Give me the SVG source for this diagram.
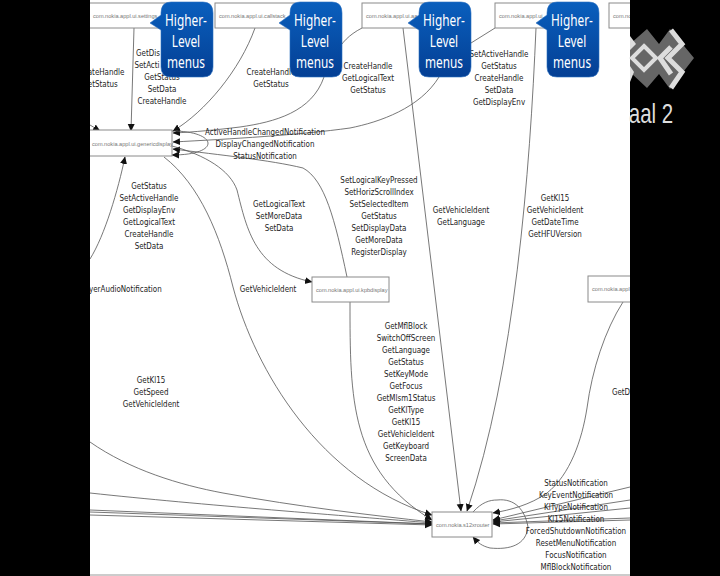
<svg xmlns="http://www.w3.org/2000/svg" width="720" height="576" viewBox="0 0 720 576">
<defs>
<marker id="a" markerUnits="userSpaceOnUse" markerWidth="9" markerHeight="8" refX="7" refY="4" orient="auto"><path d="M0 0.5L7.5 4L0 7.5Z" fill="#111"/></marker>
<linearGradient id="b" x1="0" y1="0" x2="0" y2="1"><stop offset="0" stop-color="#0a5fbd"/><stop offset="1" stop-color="#043f94"/></linearGradient>
<path id="bub" d="M11 0H43Q53 0 53 11V65Q53 75 43 75H11Q1 75 1 65V28L-10 21L1 13V11Q1 0 11 0Z" fill="url(#b)" stroke="#2a6fc0" stroke-width="0.6"/>
</defs>
<style>
.n{fill:#fff;stroke:#8a8a8a;stroke-width:1}
.t{font:5.6px "Liberation Sans",sans-serif;fill:#777}
.l{font:9.4px "DejaVu Sans",sans-serif;fill:#222;text-anchor:middle;transform-box:fill-box;transform-origin:center;transform:scaleX(.76)}
.c path{fill:none;stroke:#555;stroke-width:.8}
.ah path{marker-end:url(#a)}
.h{font:16px "Noto Sans",sans-serif;fill:#fff;text-anchor:middle;transform-box:fill-box;transform-origin:center;transform:scaleX(.74)}
.w{fill:none;stroke:#ddd;stroke-width:5}
</style>
<rect width="720" height="576" fill="#000"/>
<rect x="90" y="0" width="540" height="576" fill="#fff"/>
<path d="M90 575H630" stroke="#999" fill="none"/>
<g id="connectors" class="c">
<path d="M362 28C335 42 335 60 324 77"/>
<path d="M495 28L471 43"/>
<g class="ah">
<path d="M134 28L131 131"/>
<path d="M255 28C240 70 205 112 173 131"/>
<path d="M324 77C312 112 275 122 240 127C215 130 195 132 173 133"/>
<path d="M439 77C420 108 380 122 350 128C300 135 230 139 173 142"/>
<path d="M172 131C218 131 222 155 172 155"/>
<path d="M347 277C335 220 325 180 303 168C270 160 220 155 173 149"/>
<path d="M172 146C205 155 230 170 237 190C247 230 255 270 312 282"/>
<path d="M90 259C105 235 118 190 125 157"/>
<path d="M90 125L100 131"/>
<path d="M403 28L461 511"/>
<path d="M536 28C530 170 515 370 467 511"/>
<path d="M164 157C200 185 220 235 233 287C255 370 320 480 432 515"/>
<path d="M350 302C350 400 350 470 432 520"/>
<path d="M90 442C130 470 180 485 223 493C300 507 370 515 432 522"/>
<path d="M90 493C200 505 350 516 432 523"/>
<path d="M90 510L432 524"/>
<path d="M90 512L432 524"/>
<path d="M90 515L432 525"/>
<path d="M623 302C605 330 592 370 587 408C582 440 570 475 547 493C530 505 510 510 493 513"/>
<path d="M630 487L493 520"/>
<path d="M630 500L493 521"/>
<path d="M630 508L493 522"/>
<path d="M630 518L493 523"/>
<path d="M630 520L493 524"/>
<path d="M473 512C482 502 490 500 497 500C515 498 525 510 528 527C526 545 510 550 490 548C482 546 478 543 473 537"/>
</g>
</g>
<g id="labels">
<text class="l" x="148" y="56">GetDis</text>
<text class="l" x="147" y="68">SetActi</text>
<text class="l" x="162" y="80">GetStatus</text>
<text class="l" x="162" y="92">SetData</text>
<text class="l" x="162" y="104">CreateHandle</text>
<text class="l" x="100" y="75">CreateHandle</text>
<text class="l" x="100" y="87">GetStatus</text>
<text class="l" x="271" y="75">CreateHandle</text>
<text class="l" x="271" y="87">GetStatus</text>
<text class="l" x="368" y="69">CreateHandle</text>
<text class="l" x="368" y="81">GetLogicalText</text>
<text class="l" x="368" y="93">GetStatus</text>
<text class="l" x="499" y="57">SetActiveHandle</text>
<text class="l" x="499" y="69">GetStatus</text>
<text class="l" x="499" y="81">CreateHandle</text>
<text class="l" x="499" y="93">SetData</text>
<text class="l" x="499" y="105">GetDisplayEnv</text>
<text class="l" x="265" y="135">ActiveHandleChangedNotification</text>
<text class="l" x="265" y="147">DisplayChangedNotification</text>
<text class="l" x="265" y="159">StatusNotification</text>
<text class="l" x="149" y="189">GetStatus</text>
<text class="l" x="149" y="201">SetActiveHandle</text>
<text class="l" x="149" y="213">GetDisplayEnv</text>
<text class="l" x="149" y="225">GetLogicalText</text>
<text class="l" x="149" y="237">CreateHandle</text>
<text class="l" x="149" y="249">SetData</text>
<text class="l" x="279" y="207">GetLogicalText</text>
<text class="l" x="279" y="219">SetMoreData</text>
<text class="l" x="279" y="231">SetData</text>
<text class="l" x="379" y="183">SetLogicalKeyPressed</text>
<text class="l" x="379" y="195">SetHorizScrollIndex</text>
<text class="l" x="379" y="207">SetSelectedItem</text>
<text class="l" x="379" y="219">GetStatus</text>
<text class="l" x="379" y="231">SetDisplayData</text>
<text class="l" x="379" y="243">GetMoreData</text>
<text class="l" x="379" y="255">RegisterDisplay</text>
<text class="l" x="461" y="213">GetVehicleIdent</text>
<text class="l" x="461" y="225">GetLanguage</text>
<text class="l" x="555" y="201">GetKl15</text>
<text class="l" x="555" y="213">GetVehicleIdent</text>
<text class="l" x="555" y="225">GetDateTime</text>
<text class="l" x="555" y="237">GetHFUVersion</text>
<text class="l" x="268" y="292">GetVehicleIdent</text>
<text class="l" x="120" y="292">PlayerAudioNotification</text>
<text class="l" x="406" y="329">GetMflBlock</text>
<text class="l" x="406" y="341">SwitchOffScreen</text>
<text class="l" x="406" y="353">GetLanguage</text>
<text class="l" x="406" y="365">GetStatus</text>
<text class="l" x="406" y="377">SetKeyMode</text>
<text class="l" x="406" y="389">GetFocus</text>
<text class="l" x="406" y="401">GetMlsm1Status</text>
<text class="l" x="406" y="413">GetKlType</text>
<text class="l" x="406" y="425">GetKl15</text>
<text class="l" x="406" y="437">GetVehicleIdent</text>
<text class="l" x="406" y="449">GetKeyboard</text>
<text class="l" x="406" y="461">ScreenData</text>
<text class="l" x="151" y="383">GetKl15</text>
<text class="l" x="151" y="395">GetSpeed</text>
<text class="l" x="151" y="407">GetVehicleIdent</text>
<text class="l" x="621" y="395">GetD</text>
<text class="l" x="576" y="486">StatusNotification</text>
<text class="l" x="576" y="498">KeyEventNotification</text>
<text class="l" x="576" y="510">KlTypeNotification</text>
<text class="l" x="576" y="522">Kl15Notification</text>
<text class="l" x="576" y="534">ForcedShutdownNotification</text>
<text class="l" x="576" y="546">ResetMenuNotification</text>
<text class="l" x="576" y="558">FocusNotification</text>
<text class="l" x="576" y="570">MflBlockNotification</text>
</g>
<g id="node-settings"><rect class="n" x="80" y="3" width="88" height="25"/><text class="t" x="93" y="18">com.nokia.appl.ui.settings</text></g>
<g id="node-callstack"><rect class="n" x="215" y="3" width="80" height="25"/><text class="t" x="219" y="18">com.nokia.appl.ui.callstack</text></g>
<g id="node-a"><rect class="n" x="362" y="3" width="70" height="25"/><text class="t" x="366" y="18">com.nokia.appl.ui.aa</text></g>
<g id="node-b"><rect class="n" x="495" y="3" width="60" height="25"/><text class="t" x="499" y="18">com.nokia.appl.ui.</text></g>
<g id="node-c"><rect class="n" x="609" y="3" width="40" height="25"/><text class="t" x="613" y="18">com.nokia</text></g>
<g id="node-generic"><rect class="n" x="80" y="130" width="92" height="26"/><text class="t" x="92" y="146">com.nokia.appl.ui.genericdisplay</text></g>
<g id="node-kbd"><rect class="n" x="312" y="277" width="77" height="25"/><text class="t" x="316" y="292">com.nokia.appl.ui.kpbdisplay</text></g>
<g id="node-r"><rect class="n" x="588" y="276" width="60" height="26"/><text class="t" x="592" y="291">com.nokia.appl</text></g>
<g id="node-router"><rect class="n" x="432" y="512" width="60" height="25"/><text class="t" x="436" y="527">com.nokia.s12xrouter</text></g>
<g id="b1"><use href="#bub" x="160" y="2"/><text class="h" x="186" y="26">Higher-</text><text class="h" x="186" y="47">Level</text><text class="h" x="186" y="68">menus</text></g>
<g id="b2"><use href="#bub" x="289" y="2"/><text class="h" x="315" y="26">Higher-</text><text class="h" x="315" y="47">Level</text><text class="h" x="315" y="68">menus</text></g>
<g id="b3"><use href="#bub" x="418" y="2"/><text class="h" x="444" y="26">Higher-</text><text class="h" x="444" y="47">Level</text><text class="h" x="444" y="68">menus</text></g>
<g id="b4"><use href="#bub" x="546" y="2"/><text class="h" x="572" y="26">Higher-</text><text class="h" x="572" y="47">Level</text><text class="h" x="572" y="68">menus</text></g>
<path d="M0 0H90V576H0ZM630 0H720V576H630Z" fill="#000"/>
<g id="logo">
<path d="M630 44L647 29L659 44L670 29L694 58L670 89L659 74L647 88L630 72Z" fill="#666"/>
<path d="M630 36L636 44L630 50ZM630 66L634 72L630 82Z" fill="#ddd"/>
<path d="M644 46L656 58L644 70L632 58Z" fill="none" stroke="#ddd" stroke-width="4"/>
<path class="w" d="M671 47L660 58L671 74"/>
<path class="w" d="M671 30L682 44L668 58L682 72L671 88"/>
<text x="651" y="123" font-family="Liberation Sans,sans-serif" font-size="27" fill="#ddd" text-anchor="middle" style="transform-box:fill-box;transform-origin:center;transform:scaleX(.76)">aal 2</text>
</g>
</svg>
